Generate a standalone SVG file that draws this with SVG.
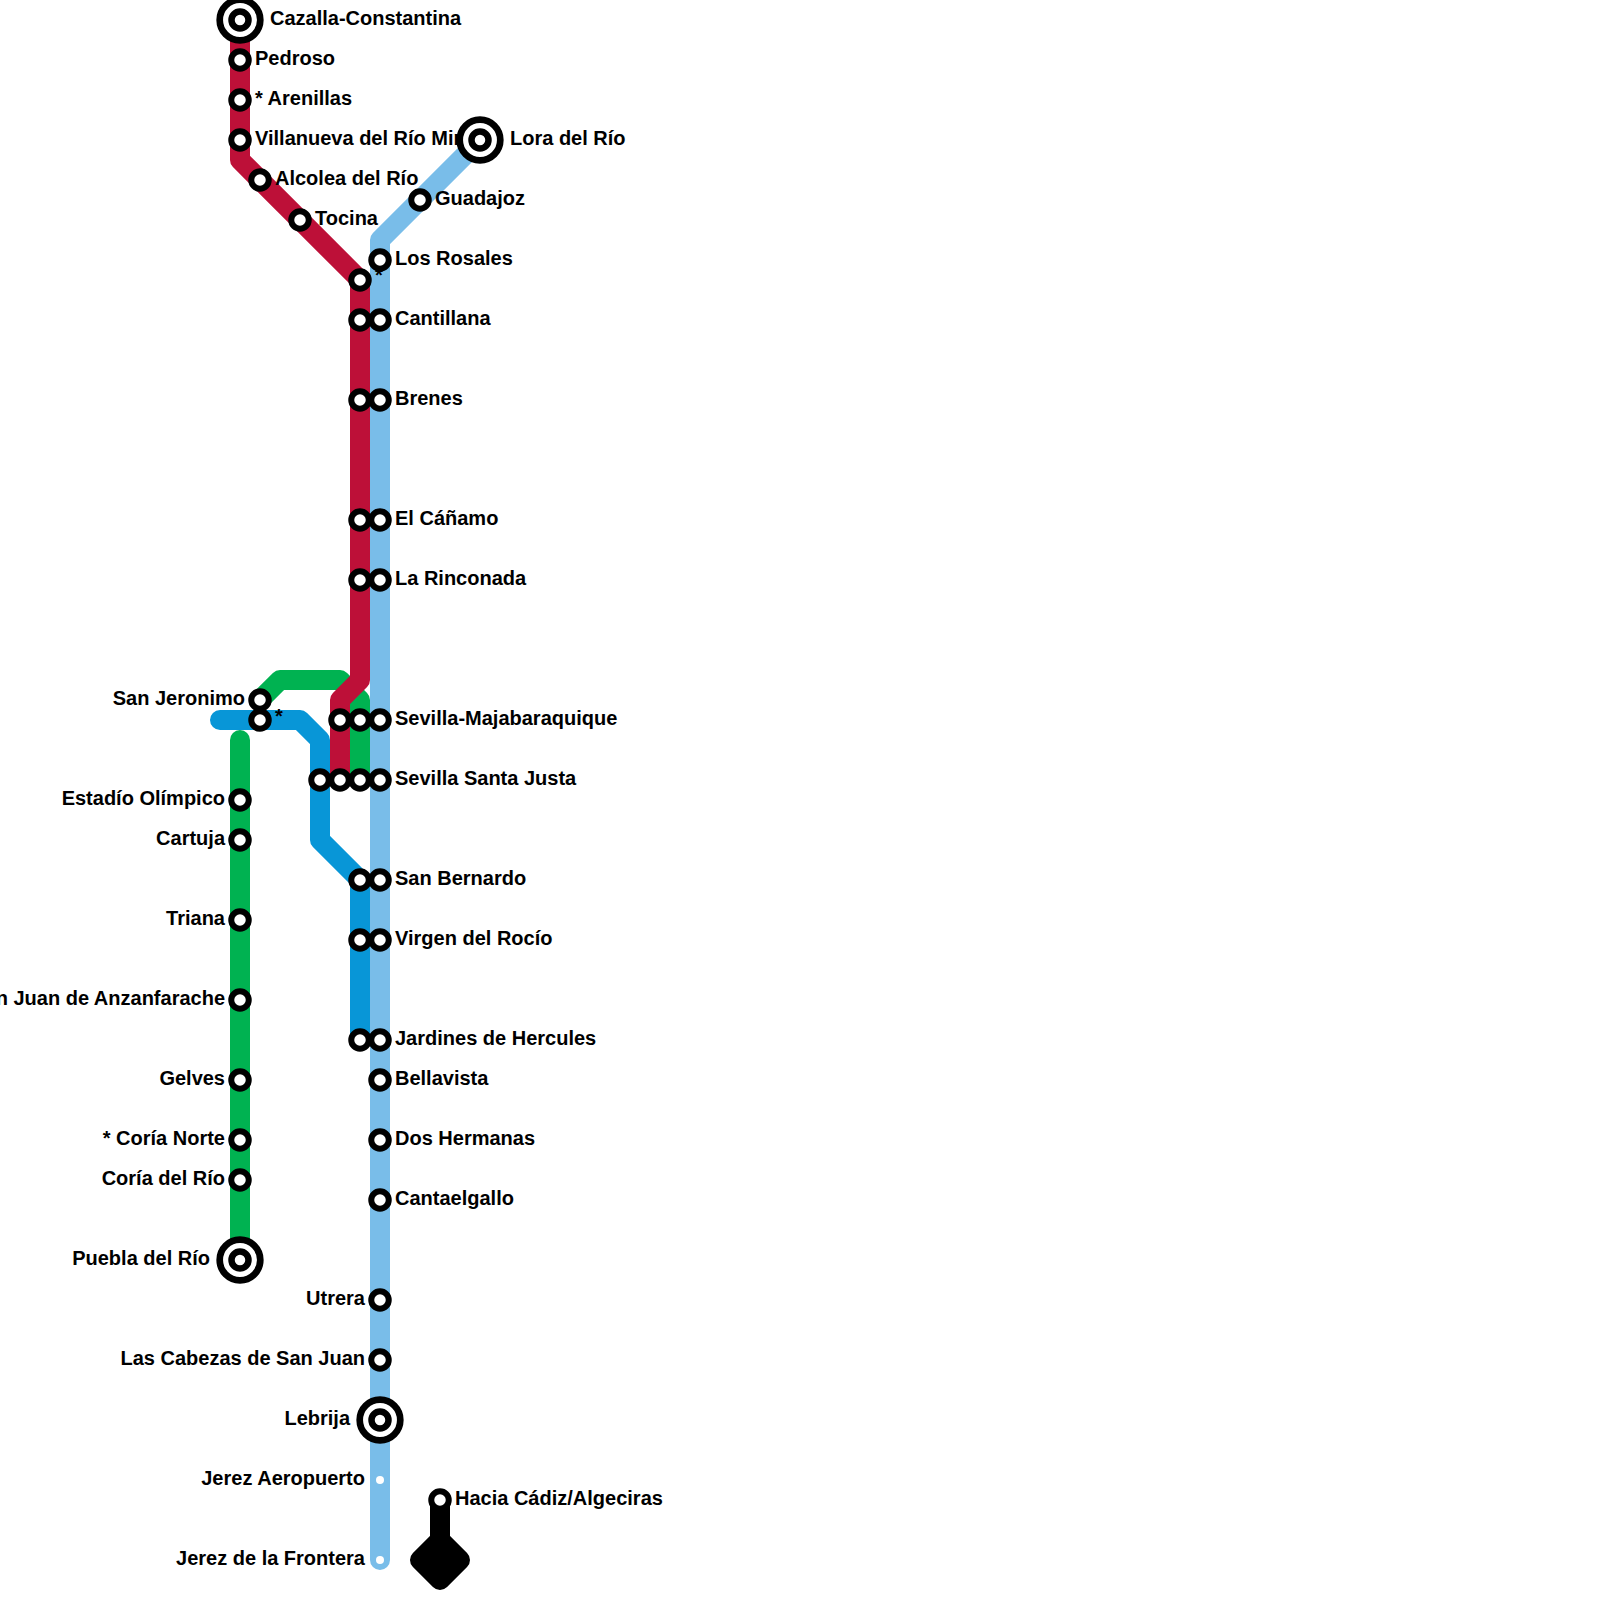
<svg xmlns="http://www.w3.org/2000/svg" width="1600" height="1600" viewBox="0 0 1600 1600">
<style>
.l{fill:none;stroke-width:20;stroke-linecap:round;stroke-linejoin:round}
.t{font-family:"Liberation Sans",Arial,sans-serif;font-weight:700;font-size:20px;fill:#000}
.e{text-anchor:end}
.s{fill:#fff;stroke:#000;stroke-width:6}
.o{fill:#fff;stroke:#000;stroke-width:6.7}
.i{fill:#fff;stroke:#000;stroke-width:6.5}
.d{fill:#fff}
</style>
<defs>
<g id="st"><circle class="s" r="8.75"/></g>
<g id="te"><circle class="o" r="20.3"/><circle class="i" r="8.5"/></g>
</defs>
<rect width="1600" height="1600" fill="#fff"/>
<g id="connectors">
<path class="l" stroke="#00b251" d="M240 740V1260"/>
<path class="l" stroke="#00b251" d="M260 700L280 680H340L360 700V780"/>
<path class="l" stroke="#0896d7" d="M220 720H300L320 740V840L360 880V1040"/>
<path class="l" stroke="#bd1038" d="M240 20V160L360 280V680L340 700V780"/>
<path class="l" stroke="#79bde9" d="M480 140L380 240V1560"/>
<path class="l" stroke="#000" d="M440 1500V1560"/>
<path class="l" stroke="#000" fill="#000" d="M440 1540L460 1560L440 1580L420 1560Z"/>
</g>
<g id="labels">
<text class="t" x="270" y="25">Cazalla-Constantina</text>
<text class="t" x="255" y="65">Pedroso</text>
<text class="t" x="255" y="105">* Arenillas</text>
<text class="t" x="255" y="145">Villanueva del Río Minas</text>
<text class="t" x="275" y="185">Alcolea del Río</text>
<text class="t" x="315" y="225">Tocina</text>
<text class="t" x="510" y="145">Lora del Río</text>
<text class="t" x="435" y="205">Guadajoz</text>
<text class="t" x="395" y="265">Los Rosales</text>
<text class="t" x="375" y="282">*</text>
<text class="t" x="395" y="325">Cantillana</text>
<text class="t" x="395" y="405">Brenes</text>
<text class="t" x="395" y="525">El Cáñamo</text>
<text class="t" x="395" y="585">La Rinconada</text>
<text class="t" x="395" y="725">Sevilla-Majabaraquique</text>
<text class="t" x="395" y="785">Sevilla Santa Justa</text>
<text class="t" x="395" y="885">San Bernardo</text>
<text class="t" x="395" y="945">Virgen del Rocío</text>
<text class="t" x="395" y="1045">Jardines de Hercules</text>
<text class="t" x="395" y="1085">Bellavista</text>
<text class="t" x="395" y="1145">Dos Hermanas</text>
<text class="t" x="395" y="1205">Cantaelgallo</text>
<text class="t e" x="365" y="1305">Utrera</text>
<text class="t e" x="365" y="1365">Las Cabezas de San Juan</text>
<text class="t e" x="350" y="1425">Lebrija</text>
<text class="t e" x="365" y="1485">Jerez Aeropuerto</text>
<text class="t e" x="365" y="1565">Jerez de la Frontera</text>
<text class="t" x="455" y="1505">Hacia Cádiz/Algeciras</text>
<text class="t e" x="245" y="705">San Jeronimo</text>
<text class="t" x="275" y="723">*</text>
<text class="t e" x="225" y="805">Estadío Olímpico</text>
<text class="t e" x="225" y="845">Cartuja</text>
<text class="t e" x="225" y="925">Triana</text>
<text class="t e" x="225" y="1005">San Juan de Anzanfarache</text>
<text class="t e" x="225" y="1085">Gelves</text>
<text class="t e" x="225" y="1145">* Coría Norte</text>
<text class="t e" x="225" y="1185">Coría del Río</text>
<text class="t e" x="210" y="1265">Puebla del Río</text>
</g>
<g id="n-cazalla"><use href="#te" x="240" y="20"/></g>
<g id="n-pedroso"><use href="#st" x="240" y="60"/></g>
<g id="n-arenillas"><use href="#st" x="240" y="100"/></g>
<g id="n-villanueva"><use href="#st" x="240" y="140"/></g>
<g id="n-alcolea"><use href="#st" x="260" y="180"/></g>
<g id="n-tocina"><use href="#st" x="300" y="220"/></g>
<g id="n-lora"><use href="#te" x="480" y="140"/></g>
<g id="n-guadajoz"><use href="#st" x="420" y="200"/></g>
<g id="n-rosales"><use href="#st" x="380" y="260"/></g>
<g id="n-rosales2"><use href="#st" x="360" y="280"/></g>
<g id="n-cantillana"><use href="#st" x="360" y="320"/><use href="#st" x="380" y="320"/></g>
<g id="n-brenes"><use href="#st" x="360" y="400"/><use href="#st" x="380" y="400"/></g>
<g id="n-canamo"><use href="#st" x="360" y="520"/><use href="#st" x="380" y="520"/></g>
<g id="n-rinconada"><use href="#st" x="360" y="580"/><use href="#st" x="380" y="580"/></g>
<g id="n-majabaraquique"><use href="#st" x="340" y="720"/><use href="#st" x="360" y="720"/><use href="#st" x="380" y="720"/></g>
<g id="n-santajusta"><use href="#st" x="320" y="780"/><use href="#st" x="340" y="780"/><use href="#st" x="360" y="780"/><use href="#st" x="380" y="780"/></g>
<g id="n-bernardo"><use href="#st" x="360" y="880"/><use href="#st" x="380" y="880"/></g>
<g id="n-virgen"><use href="#st" x="360" y="940"/><use href="#st" x="380" y="940"/></g>
<g id="n-jardines"><use href="#st" x="360" y="1040"/><use href="#st" x="380" y="1040"/></g>
<g id="n-bellavista"><use href="#st" x="380" y="1080"/></g>
<g id="n-doshermanas"><use href="#st" x="380" y="1140"/></g>
<g id="n-cantaelgallo"><use href="#st" x="380" y="1200"/></g>
<g id="n-utrera"><use href="#st" x="380" y="1300"/></g>
<g id="n-cabezas"><use href="#st" x="380" y="1360"/></g>
<g id="n-lebrija"><use href="#te" x="380" y="1420"/></g>
<g id="n-aeropuerto"><circle class="d" cx="380" cy="1480" r="4"/></g>
<g id="n-jerez"><circle class="d" cx="380" cy="1560" r="4"/></g>
<g id="n-hacia"><use href="#st" x="440" y="1500"/></g>
<g id="n-jeronimo"><use href="#st" x="260" y="700"/></g>
<g id="n-jeronimo2"><use href="#st" x="260" y="720"/></g>
<g id="n-olimpico"><use href="#st" x="240" y="800"/></g>
<g id="n-cartuja"><use href="#st" x="240" y="840"/></g>
<g id="n-triana"><use href="#st" x="240" y="920"/></g>
<g id="n-anzanfarache"><use href="#st" x="240" y="1000"/></g>
<g id="n-gelves"><use href="#st" x="240" y="1080"/></g>
<g id="n-corianorte"><use href="#st" x="240" y="1140"/></g>
<g id="n-coria"><use href="#st" x="240" y="1180"/></g>
<g id="n-puebla"><use href="#te" x="240" y="1260"/></g>
</svg>
